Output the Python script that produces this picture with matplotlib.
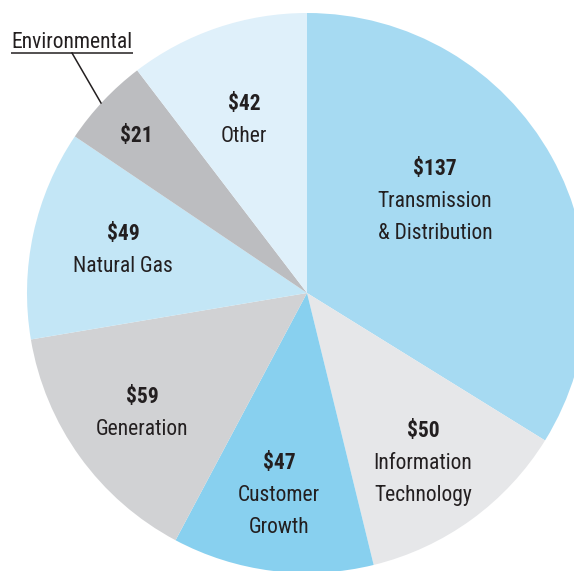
import matplotlib
matplotlib.use("Agg")
import matplotlib.pyplot as plt

# Werte in Mio. $ (im Uhrzeigersinn ab 12 Uhr)
labels = ["Transmission\n& Distribution", "Information\nTechnology", "Customer\nGrowth",
          "Generation", "Natural Gas", "", "Other"]
values = [137, 50, 47, 59, 49, 21, 42]
colors = ["#a6daf2", "#e6e7e9", "#88d0ef", "#d1d2d4", "#c3e6f6", "#bcbdc0", "#dff0fa"]

# Textpositionen (Pixel, Grundlinie des Betrags, y von oben) je Segment
label_x = [435, 423, 279, 142, 123, 136, 244]
label_y = [175, 437, 469, 403, 240, 142, 110]

W, H = 574, 571
cx, cy, r = 307, 293, 280
txt = "#231f20"
fam = ["Roboto Condensed", "DejaVu Sans"]
fs = 15.5
step = 32

fig = plt.figure(figsize=(W / 100, H / 100), dpi=100)
ax = fig.add_axes([0, 0, 1, 1])
ax.pie(values, colors=colors, startangle=90, counterclock=False,
       center=(cx, H - cy), radius=r, wedgeprops=dict(linewidth=0))
ax.set_xlim(0, W)
ax.set_ylim(0, H)
ax.set_aspect("equal")
ax.axis("off")

for lab, v, x, y in zip(labels, values, label_x, label_y):
    ax.text(x, H - y, f"${v}", ha="center", va="baseline", fontsize=fs,
            fontweight="bold", color=txt, family=fam)
    for k, line in enumerate(lab.split("\n") if lab else []):
        ax.text(x, H - y - step * (k + 1), line, ha="center", va="baseline",
                fontsize=fs, color=txt, family=fam)

# Beschriftung Environmental mit Linie
ax.text(72, H - 48, "Environmental", ha="center", va="baseline", fontsize=fs,
        color=txt, family=fam)
ax.plot([11, 133], [H - 53, H - 53], color=txt, lw=1.1, solid_capstyle="butt")
ax.plot([72, 101], [H - 53, H - 103], color=txt, lw=1.1)

fig.savefig("out.png", dpi=100)
